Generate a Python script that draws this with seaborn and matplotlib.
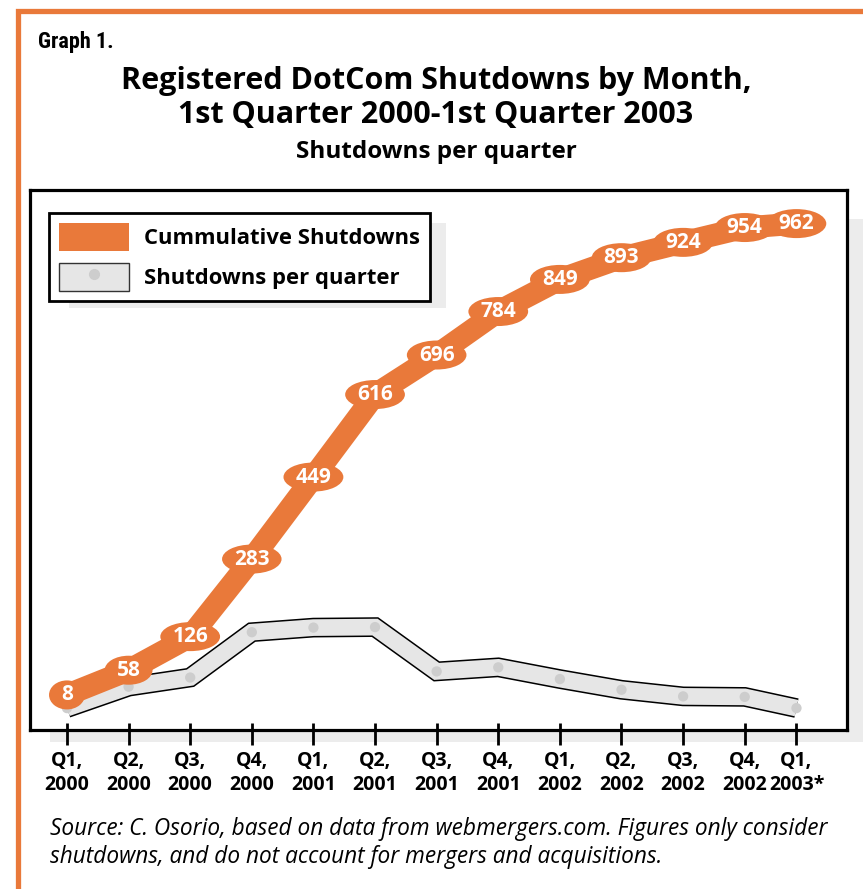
import matplotlib
matplotlib.use("Agg")
import matplotlib.pyplot as plt
import seaborn as sns
from matplotlib import font_manager as fm
from matplotlib.patches import Rectangle, Patch, Ellipse
from matplotlib.lines import Line2D
import matplotlib.patheffects as pe
import matplotlib.transforms as mtrans

# ---------------- data ----------------
quarters = ["Q1,\n2000", "Q2,\n2000", "Q3,\n2000", "Q4,\n2000",
            "Q1,\n2001", "Q2,\n2001", "Q3,\n2001", "Q4,\n2001",
            "Q1,\n2002", "Q2,\n2002", "Q3,\n2002", "Q4,\n2002",
            "Q1,\n2003*"]
x_pos = [0, 1, 2, 3, 4, 5, 6, 7, 8, 9, 10, 11, 11.84]
cumulative = [8, 58, 126, 283, 449, 616, 696, 784, 849, 893, 924, 954, 962]
per_quarter = [8, 50, 68, 157, 166, 167, 80, 88, 65, 44, 31, 30, 8]

title1 = "Registered DotCom Shutdowns by Month,\n1st Quarter 2000-1st Quarter 2003"
subtitle = "Shutdowns per quarter"
graph_label = "Graph 1."
source = ("Source: C. Osorio, based on data from webmergers.com. Figures only consider\n"
          "shutdowns, and do not account for mergers and acquisitions.")
legend_labels = ["Cummulative Shutdowns", "Shutdowns per quarter"]

ORANGE = "#E9793A"
RIBBON = "#e6e6e6"
DOT = "#cdcdcd"
SHADOW = "#ececec"

# ---------------- fonts ----------------
sns.set_theme(style="white")
avail = {f.name for f in fm.fontManager.ttflist}
main_font = "Open Sans" if "Open Sans" in avail else "DejaVu Sans"
plt.rcParams["font.family"] = [main_font, "DejaVu Sans"]
plt.rcParams["text.color"] = "black"
plt.rcParams["axes.labelcolor"] = "black"
plt.rcParams["xtick.color"] = "black"

# a condensed heavy face for "Graph 1."
narrow = None
for cand in ["Liberation Sans Narrow", "Roboto Condensed", "Open Sans Condensed"]:
    if cand in avail:
        narrow = dict(family=[cand, "DejaVu Sans"], stretch="normal")
        break
if narrow is None:
    cond = [f for f in fm.fontManager.ttflist
            if f.name == "DejaVu Sans" and "ondensed" in str(f.stretch)]
    if cond:
        narrow = dict(family=["DejaVu Sans"], stretch="condensed")
    else:
        narrow = dict(family=[main_font, "DejaVu Sans"], stretch="normal")

W, H = 863, 889
fig = plt.figure(figsize=(W / 100, H / 100), dpi=100)
fig.patch.set_facecolor("white")


def fx(px):
    return px / W


def fy(py):
    return 1 - py / H


# page decorations: orange border, shadows
fig.add_artist(Line2D([fx(17.5), fx(17.5), 1.02], [-0.02, fy(10.5), fy(10.5)],
                      transform=fig.transFigure, color=ORANGE, lw=3.8,
                      solid_joinstyle="miter", zorder=5))
fig.add_artist(Rectangle((fx(50), fy(742)), 1.0, (742 - 219) / H,
                         transform=fig.transFigure, fc=SHADOW, ec="none", zorder=-1))

ax = fig.add_axes([fx(30), fy(730), (847 - 30) / W, (730 - 190) / H])
ax.set_facecolor("white")
ax2 = ax.twinx()
ax2.set_zorder(2)
ax2.patch.set_visible(False)

# legend shadow (between axes background and the top layer)
fig.add_artist(Rectangle((fx(69), fy(308)), (446 - 69) / W, (308 - 223) / H,
                         transform=fig.transFigure, fc=SHADOW, ec="none", zorder=1))

# ---------------- per quarter ribbon ----------------
sns.lineplot(x=x_pos, y=per_quarter, ax=ax, color=RIBBON, lw=12, sort=False,
             solid_capstyle="butt", solid_joinstyle="miter",
             path_effects=[pe.Stroke(linewidth=14.2, foreground="black"), pe.Normal()])
sns.scatterplot(x=x_pos, y=per_quarter, ax=ax, color=DOT, s=55,
                edgecolor="none", zorder=3)
ax.set_xlim(-0.6, 12.66)
ax.set_ylim(-35, 1025)

# ---------------- cumulative line ----------------
sns.lineplot(x=x_pos, y=cumulative, ax=ax2, color=ORANGE, lw=16, sort=False,
             solid_capstyle="butt", solid_joinstyle="round")
ax2.set_ylim(-63, 1030)
ax2.set_xlim(-0.6, 12.66)

texts = []
for xv, yv in zip(x_pos, cumulative):
    t = ax2.text(xv, yv, str(yv), ha="center", va="center", color="white",
                 fontsize=15, fontweight="bold", zorder=6)
    texts.append(t)

# axes styling
for s in ax.spines.values():
    s.set_color("black")
    s.set_linewidth(2.3)
for s in ax2.spines.values():
    s.set_visible(False)
ax.set_yticks([])
ax2.set_yticks([])
ax.set_ylabel("")
ax2.set_ylabel("")

ax.set_xticks(x_pos)
ax.set_xticklabels(quarters, fontweight="bold", fontsize=14, linespacing=1.28,
                   color="black")
ax.xaxis.remove_overlapping_locs = False
ax.set_xticks(x_pos, minor=True)
ax.tick_params(axis="x", which="major", direction="out", length=11, width=2,
               color="black", pad=4, labelcolor="black", bottom=True)
ax.tick_params(axis="x", which="minor", direction="in", length=5, width=2,
               color="black", bottom=True)

# legend
handles = [Patch(fc=ORANGE, ec="none"),
           (Patch(fc=RIBBON, ec="#333333", lw=1),
            Line2D([], [], marker="o", ls="", color=DOT, ms=7))]
leg = ax2.legend(handles=handles, labels=legend_labels, loc="upper left",
                 bbox_to_anchor=(fx(49), fy(213)), bbox_transform=fig.transFigure,
                 borderaxespad=0, frameon=True, fancybox=False, shadow=False,
                 handlelength=3.2, handleheight=1.6, handletextpad=0.68,
                 labelspacing=0.55, borderpad=0.45,
                 prop={"family": main_font, "weight": "bold", "size": 15.8})
leg.get_frame().set_edgecolor("black")
leg.get_frame().set_linewidth(2)
leg.get_frame().set_facecolor("white")
leg.get_frame().set_alpha(1)
for t in leg.get_texts():
    t.set_color("black")

# titles
fig.text(fx(38), fy(48), graph_label, fontweight="heavy", fontsize=16,
         va="baseline", ha="left", color="black", **narrow)
fig.text(fx(436), fy(98), title1, ha="center", va="center", fontsize=22,
         fontweight="bold", linespacing=1.18, color="black")
fig.text(fx(436), fy(152), subtitle, ha="center", va="center", fontsize=17.5,
         fontweight="bold", color="black")
fig.text(fx(50), fy(817), source, ha="left", va="top", fontsize=16.3,
         style="italic", linespacing=1.22, color="black")

# ellipses behind value labels, sized from the rendered text
fig.canvas.draw()
r = fig.canvas.get_renderer()
for t, xv, yv in zip(texts, x_pos, cumulative):
    bb = t.get_window_extent(r)
    wpx = bb.width + 24
    trans = fig.dpi_scale_trans + mtrans.ScaledTranslation(xv, yv, ax2.transData)
    e = Ellipse((0, 0), width=wpx / 100, height=29 / 100, transform=trans,
                fc=ORANGE, ec="none", zorder=5, clip_on=False)
    ax2.add_artist(e)

fig.savefig("out.png", dpi=100, facecolor="white")
